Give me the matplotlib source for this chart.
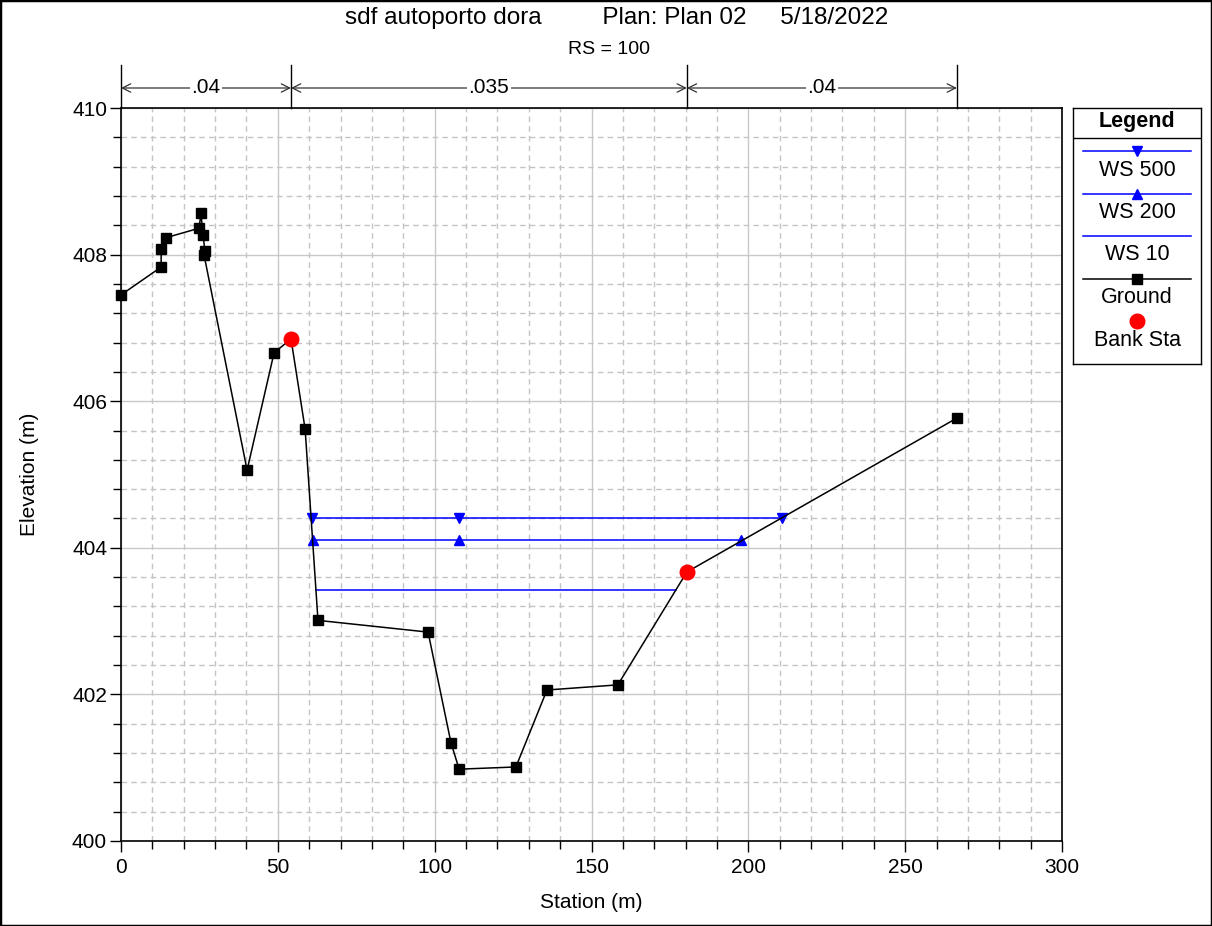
import numpy as np
import matplotlib.pyplot as plt
from matplotlib.patches import Rectangle
import matplotlib.transforms as mtransforms

plt.rcParams['font.family'] = ['Liberation Sans', 'DejaVu Sans']

# ground profile (station m, elevation m)
ground_x = [0.0, 12.8, 12.8, 14.3, 24.9, 25.5, 26.1, 26.8, 26.5, 40.2, 48.8, 54.2,
            58.7, 62.8, 97.9, 105.2, 107.8, 125.9, 135.8, 158.4, 180.4, 266.5]
ground_y = [407.45, 407.83, 408.08, 408.23, 408.36, 408.57, 408.27, 408.05, 407.99,
            405.06, 406.66, 406.85, 405.62, 403.01, 402.85, 401.34, 400.98, 401.01,
            402.06, 402.13, 403.67, 405.77]

bank_x = [54.2, 180.4]
bank_y = [406.85, 403.67]

ws500_x = [60.8, 107.8, 210.6]
ws500_y = 404.41
ws200_x = [61.2, 107.8, 197.7]
ws200_y = 404.11
ws10_x = [62.2, 177.0]
ws10_y = 403.42

mann_n = [".04", ".035", ".04"]
n_breaks = [0.0, 54.2, 180.4, 266.5]

title = "sdf autoporto dora         Plan: Plan 02     5/18/2022"
subtitle = "RS = 100"

fig = plt.figure(figsize=(12.12, 9.26), dpi=100)
ax = fig.add_axes([121/1212, 85/926, 941/1212, 733/926])

ax.plot(ws500_x, [ws500_y]*len(ws500_x), color='blue', lw=1.1, marker='v', ms=7, zorder=3)
ax.plot(ws200_x, [ws200_y]*len(ws200_x), color='blue', lw=1.1, marker='^', ms=7, zorder=3)
ax.plot(ws10_x, [ws10_y]*len(ws10_x), color='blue', lw=1.1, zorder=3)
ax.plot(ground_x, ground_y, color='black', lw=1.1, marker='s', ms=7, zorder=4, clip_on=False)
ax.plot(bank_x, bank_y, ls='none', marker='o', color='red', ms=10.5, zorder=5)

ax.set_xlim(0, 300)
ax.set_ylim(400, 410)
ax.set_xticks(np.arange(0, 301, 50))
ax.set_xticks(np.arange(0, 301, 10), minor=True)
ax.set_yticks(np.arange(400, 411, 2))
ax.set_yticks(np.arange(400, 410.01, 0.4), minor=True)
ax.grid(which='major', color='#c8c8c8', lw=1, ls='-')
ax.grid(which='minor', color='#c4c4c4', lw=1, ls=(0, (4, 3)))
ax.set_axisbelow(True)
ax.tick_params(which='major', direction='out', length=8, labelsize=15, width=1, pad=2)
ax.tick_params(axis='x', which='major', pad=4)
ax.tick_params(which='minor', direction='out', length=6, width=1)
for s in ax.spines.values():
    s.set_linewidth(1.2)
ax.set_xlabel("Station (m)", fontsize=15, labelpad=12)
ax.set_ylabel("Elevation (m)", fontsize=15, labelpad=24)

# manning n zones above plot
trans = mtransforms.blended_transform_factory(ax.transData, ax.transAxes)
top = 1 + 43/733
arr_y = 1 + 20/733
for xb in n_breaks:
    ax.plot([xb, xb], [1, top], color='black', lw=1, transform=trans, clip_on=False)
for i, lab in enumerate(mann_n):
    x0, x1 = n_breaks[i], n_breaks[i+1]
    ax.annotate('', xy=(x1, arr_y), xytext=(x0, arr_y), xycoords=trans, textcoords=trans,
                arrowprops=dict(arrowstyle='<->', lw=0.9, color='#333333',
                                shrinkA=0, shrinkB=0, mutation_scale=15))
    ax.text((x0 + x1)/2, arr_y, lab, transform=trans, ha='center', va='center',
            fontsize=15, bbox=dict(facecolor='white', edgecolor='none', pad=1))

fig.text(617/1212, 1 - 18/926, title, ha='center', va='center', fontsize=17.5)
fig.text(609/1212, 1 - 49/926, subtitle, ha='center', va='center', fontsize=14)

# legend box
lg = fig.add_axes([1073/1212, (926-364)/926, 128/1212, 256/926])
lg.set_xlim(0, 128)
lg.set_ylim(256, 0)
lg.set_xticks([])
lg.set_yticks([])
for s in lg.spines.values():
    s.set_linewidth(1)
lg.text(64, 14, "Legend", ha='center', va='center', fontsize=15.5, fontweight='bold')
lg.plot([0, 128], [30, 30], color='black', lw=1)
entries = [
    ("WS 500", dict(color='blue', marker='v', ms=7)),
    ("WS 200", dict(color='blue', marker='^', ms=7)),
    ("WS 10", dict(color='blue')),
    ("Ground", dict(color='black', marker='s', ms=7)),
    ("Bank Sta", None),
]
for k, (lab, sty) in enumerate(entries):
    yl = 43 + 42.5*k
    if sty is None:
        lg.plot([64], [yl], ls='none', marker='o', color='red', ms=10.5)
    else:
        lg.plot([10, 118], [yl, yl], color=sty['color'], lw=1.1)
        if 'marker' in sty:
            lg.plot([64], [yl], ls='none', marker=sty['marker'], color=sty['color'], ms=sty['ms'])
    lg.text(64, yl + 19, lab, ha='center', va='center', fontsize=15.5)

fig.patches.append(Rectangle((0, 0), 1, 1, transform=fig.transFigure, fill=False,
                             lw=2.5, ec='black'))

fig.savefig("out.png", dpi=100)
